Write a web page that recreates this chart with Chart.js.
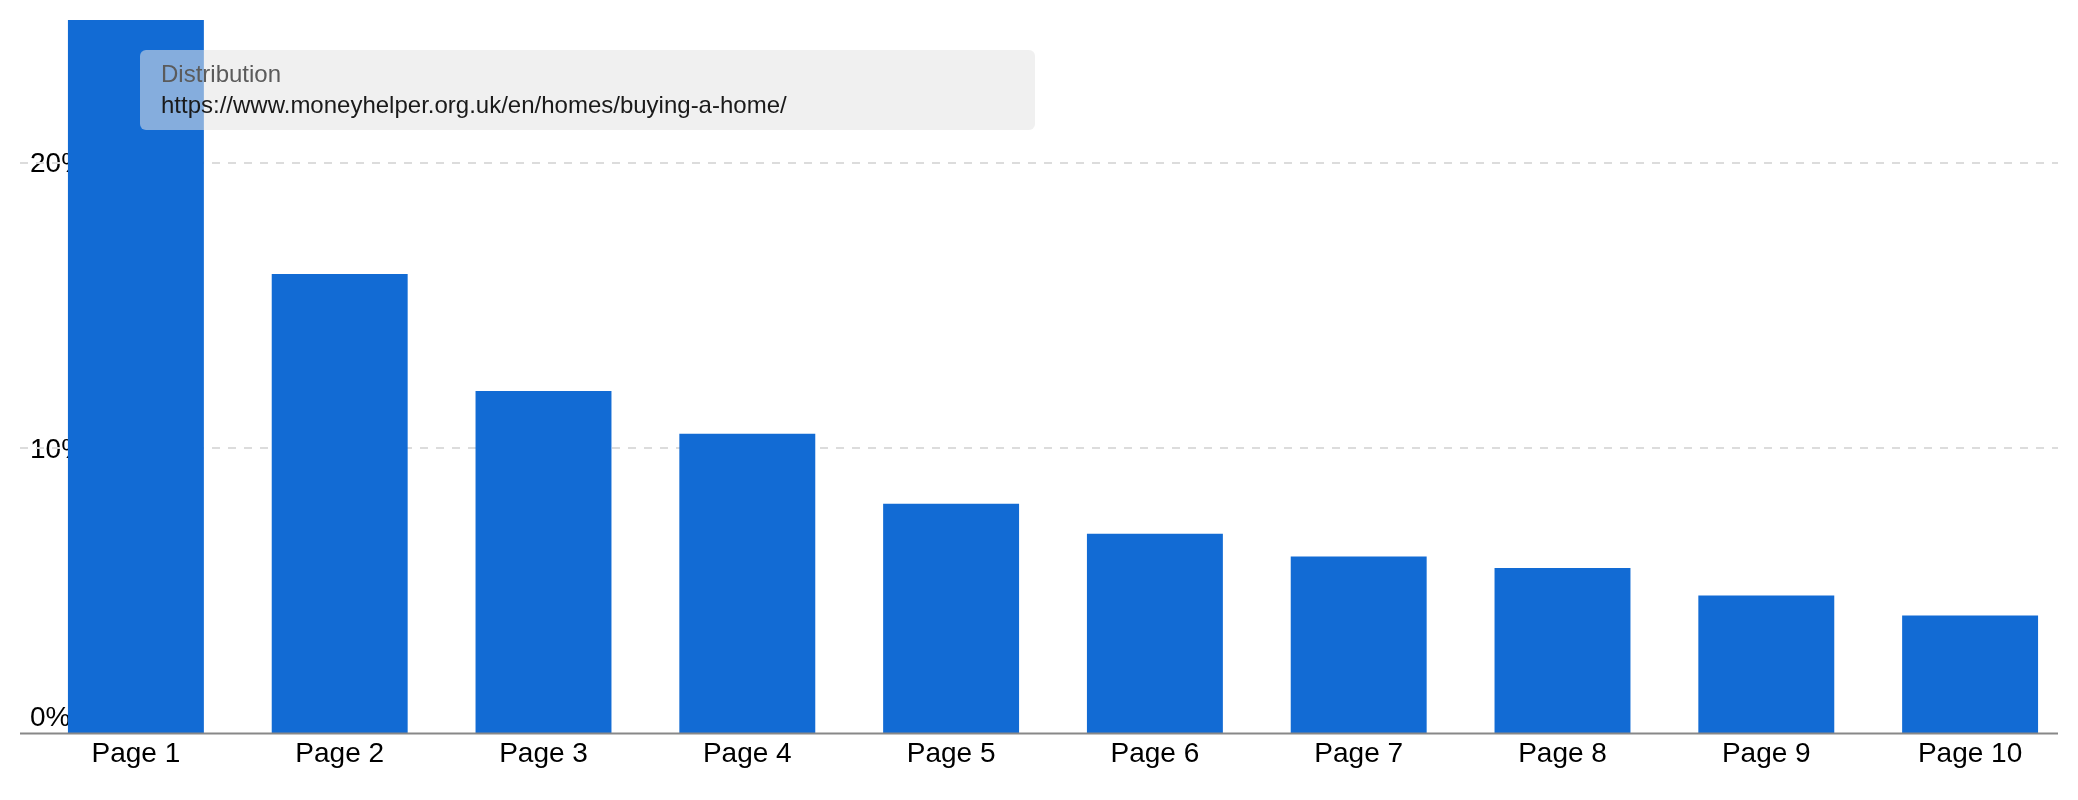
<!DOCTYPE html>
<html>
<head>
<meta charset="utf-8">
<script src="https://cdn.jsdelivr.net/npm/chart.js@4.4.1/dist/chart.umd.min.js"></script>
<style>
  html, body { margin: 0; padding: 0; background: #fff; }
  #wrap { position: relative; width: 2078px; height: 800px; }
  #tip {
    position: absolute; left: 140px; top: 50px; width: 874px; height: 72px;
    padding: 8px 0 0 21px; border-radius: 6px;
    background: rgba(228,228,228,0.55);
    font-family: "Liberation Sans", Arial, sans-serif; font-size: 24px; line-height: 31px;
  }
  #tip .t { color: #5b5b5b; }
  #tip .u { color: #1a1a1a; }
</style>
</head>
<body>
<div id="wrap">
  <canvas id="distChart"></canvas>
  <div id="tip"><div class="t">Distribution</div><div class="u">https://www.moneyhelper.org.uk/en/homes/buying-a-home/</div></div>
</div>
<script>
document.addEventListener('DOMContentLoaded', function () {

  // Distribution of results by page (percent)
  const pages = ['Page 1', 'Page 2', 'Page 3', 'Page 4', 'Page 5', 'Page 6', 'Page 7', 'Page 8', 'Page 9', 'Page 10'];
  const shares = [25, 16.1, 12.0, 10.5, 8.05, 7.0, 6.2, 5.8, 4.83, 4.13];
  const yTicks = [0, 10, 20];

  const font = "'Liberation Sans', Arial, sans-serif";

  // dashed gridlines + solid baseline, shifted left like the original
  const gridPlugin = {
    id: 'gridPlugin',
    beforeDatasetsDraw(chart) {
      const { ctx, chartArea, scales } = chart;
      const shift = 14;
      ctx.save();
      ctx.lineWidth = 2;
      ctx.strokeStyle = '#dcdcdc';
      ctx.setLineDash([8, 8]);
      yTicks.forEach(v => {
        if (v === 0) return;
        const y = Math.round(scales.y.getPixelForValue(v));
        ctx.beginPath();
        ctx.moveTo(chartArea.left - shift, y);
        ctx.lineTo(chartArea.right - shift, y);
        ctx.stroke();
      });
      ctx.restore();
    },
    afterDatasetsDraw(chart) {
      const { ctx, chartArea, scales } = chart;
      const y0 = scales.y.getPixelForValue(0);
      ctx.save();
      ctx.lineWidth = 2;
      ctx.strokeStyle = '#888888';
      ctx.beginPath();
      ctx.moveTo(chartArea.left - 14, y0);
      ctx.lineTo(chartArea.right - 14, y0);
      ctx.stroke();
      ctx.restore();
    }
  };

  const ctx = document.getElementById('distChart').getContext('2d');
  new Chart(ctx, {
    type: 'bar',
    data: {
      labels: pages,
      datasets: [{
        label: 'Distribution',
        data: shares,
        backgroundColor: '#126bd4',
        borderWidth: 0,
        categoryPercentage: 1.0,
        barPercentage: 0.667
      }]
    },
    options: {
      responsive: true,
      maintainAspectRatio: false,
      animation: false,
      layout: { padding: { left: 34, right: 6, top: 20, bottom: 25 } },
      plugins: {
        legend: { display: false },
        tooltip: { enabled: false }
      },
      scales: {
        x: {
          grid: { display: false, drawTicks: false },
          border: { display: false },
          ticks: {
            color: '#000',
            font: { family: font, size: 28 },
            padding: 4,
            maxRotation: 0
          }
        },
        y: {
          min: 0,
          max: 25,
          afterFit: s => { s.width = 0; },
          afterBuildTicks: s => { s.ticks = yTicks.map(v => ({ value: v })); },
          grid: { display: false, drawTicks: false },
          border: { display: false },
          ticks: {
            mirror: true,
            padding: -4,
            labelOffset: 2,
            color: '#000',
            font: { family: font, size: 28 },
            callback: v => v === 0 ? ['0%', ''] : v + '%'
          }
        }
      }
    },
    plugins: [gridPlugin]
  });

});
</script>
</body>
</html>
